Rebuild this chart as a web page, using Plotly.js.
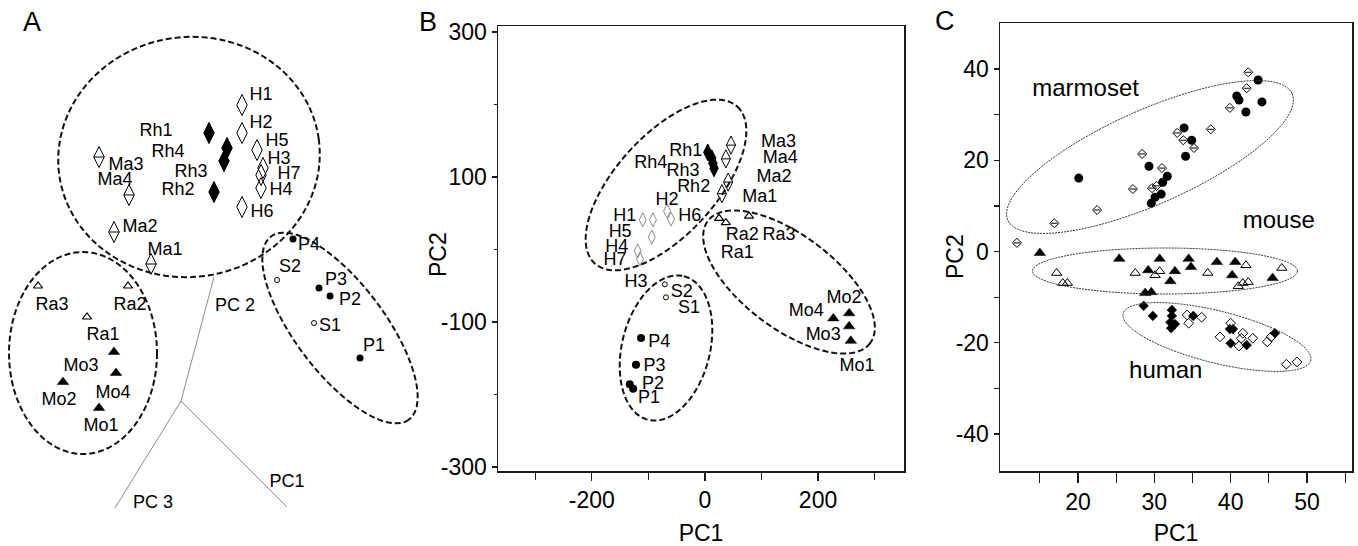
<!DOCTYPE html>
<html><head><meta charset="utf-8">
<script src="https://cdn.plot.ly/plotly-3.0.1.min.js"></script>
<style>html,body{margin:0;padding:0;background:#fff;}#chart{width:1358px;height:546px;}</style>
</head><body><div id="chart"></div>
<script>
// ---------------- Panel A (3-D PCA projection, schematic units) ----------------
const aH_x = [242,242,257,263,261,261,242];
const aH_y = [105,133,150,168,175,188,207];
const aRh_x = [209,227,224,214];
const aRh_y = [133,148,161,192];
const aMa_x = [99,129,114,151];
const aMa_y = [157,195,232,264];
const aRa_x = [38,128,87];
const aRa_y = [286,286,317];
const aMo_x = [114,116,63,99];
const aMo_y = [352,373,382,408];
const aP_x = [293,319,330,360];
const aP_y = [239,288,296,358];
const aS_x = [277,314];
const aS_y = [280,323];
const aLab_t = ['H1','H2','H5','H3','H7','H4','H6','Rh1','Rh4','Rh3','Rh2','Ma3','Ma4','Ma2','Ma1',
                'Ra3','Ra2','Ra1','Mo3','Mo4','Mo2','Mo1','P4','S2','P3','P2','S1','P1'];
const aLab_x = [261,261,277,279,289,281,262,156,168,191,178,126,115,140,165,
                52,130,103,81,113,59,101,309,290,336,350,330,374];
const aLab_y = [95,123,141,159,174,190,212,131,152,172,190,165,180,227,250,
                305,305,335,366,393,400,426,245,267,280,300,326,346];
const aAxis_x = [214,181,115,null,181,287];
const aAxis_y = [277,401,508,null,401,507];
const aAxisLab_t = ['PC 2','PC1','PC 3'];
const aAxisLab_x = [235,287,153];
const aAxisLab_y = [306,482,503];

// ---------------- Panel B (PC1 vs PC2) ----------------
const bRh_x = [5,12,14,16];
const bRh_y = [134,126,119,112];
const bMa_x = [46,37,41,30];
const bMa_y = [144,125,93,77];
const bH_x = [-110,-92,-67,-60,-94,-119,-115];
const bH_y = [41,41,53,42,17,-2,-13];
const bRa_x = [25,37,78];
const bRa_y = [43,37,46];
const bS_x = [-71,-69];
const bS_y = [-48,-66];
const bP_x = [-113,-122,-133,-127];
const bP_y = [-122,-159,-186,-192];
const bMo_x = [227,255,255,258];
const bMo_y = [-95,-88,-106,-126];
const bLab_t = ['Rh1','Rh4','Rh3','Rh2','Ma3','Ma4','Ma2','Ma1','H1','H2','H6','H5','H4','H7','H3',
                'Ra2','Ra3','Ra1','S2','S1','P4','P3','P2','P1','Mo2','Mo4','Mo3','Mo1'];
const bLab_x = [-34,-96,-39,-20,130,133,122,97,-142,-67,-27,-150,-156,-159,-122,
                66,131,57,-41,-28,-81,-89,-92,-99,246,179,209,269];
const bLab_y = [135,118,107,86,148,125,99,72,46,68,46,23,3,-15,-45,
                20,20,-5,-59,-81,-128,-161,-186,-205,-68,-86,-118,-161];
const bXtickVals = [-200,0,200];
const bXtickText = ['-200','0','200'];
const bXminor = [-300,-100,100,300];
const bYtickVals = [-300,-100,100,300];
const bYtickText = ['-300','-100','100','300'];
const bYminor = [-200,0,200];

// ---------------- Panel C (PC1 vs PC2, species) ----------------
const cMarmOpen_x = [42.3,42.1,39.9,37.4,33.0,33.8,35.2,28.4,31.0,30.3,29.7,27.2,22.5,16.9,12.0];
const cMarmOpen_y = [39.3,35.8,31.5,26.8,26.0,24.4,22.7,21.4,18.3,14.4,13.9,13.7,9.1,6.2,1.9];
const cMarmFill_x = [43.6,44.1,40.8,41.1,42.0,33.9,34.9,34.1,29.3,31.7,31.1,30.9,30.1,29.6,20.1];
const cMarmFill_y = [37.6,32.8,34.1,33.2,30.6,27.1,24.4,20.9,18.7,16.5,15.2,12.6,11.9,10.6,16.1];
const cMouseFill_x = [15.0,25.4,30.7,29.2,32.7,32.1,34.5,34.8,38.2,40.6,40.2,45.5,28.8,29.6];
const cMouseFill_y = [-0.3,-1.6,-1.6,-4.1,-4.3,-6.5,-1.6,-3.4,-2.3,-2.3,-5.2,-5.8,-9.1,-8.9];
const cMouseOpen_x = [17.2,18.0,18.6,27.5,30.1,30.7,37.0,42.0,41.0,41.6,42.3,46.7];
const cMouseOpen_y = [-4.7,-6.9,-6.9,-4.7,-5.2,-4.3,-4.7,-3.0,-7.6,-6.9,-6.7,-3.6];
const cHumFill_x = [28.6,29.8,32.3,32.3,32.1,32.7,32.2,35.1,39.9,40.3,40.0,42.1,45.8];
const cHumFill_y = [-11.9,-14.1,-12.8,-14.1,-15.5,-15.9,-16.8,-14.1,-17.0,-17.0,-20.1,-20.5,-17.9];
const cHumOpen_x = [34.3,34.5,36.2,40.0,38.6,41.6,41.4,41.1,42.9,44.8,45.3,47.3,48.7];
const cHumOpen_y = [-13.9,-15.7,-14.4,-15.7,-18.7,-17.9,-19.0,-20.7,-19.0,-19.8,-18.7,-24.7,-24.2];
const cGroup_t = ['marmoset','mouse','human'];
const cGroup_x = [21.0,46.3,31.5];
const cGroup_y = [35.4,6.5,-26.4];
const cXtickVals = [20,30,40,50];
const cXtickText = ['20','30','40','50'];
const cXminor = [15,25,35,45,55];
const cYtickVals = [-40,-20,0,20,40];
const cYtickText = ['-40','-20','0','20','40'];
const cYminor = [-30,-10,10,30];

// ---------------- helpers ----------------
const W = 1358, H = 546;
const FONT = 'Liberation Sans, Arial, Helvetica, sans-serif';
function ell(cx, cy, a, b, angDeg) {
  const t = angDeg * Math.PI / 180; let d = '';
  const n = 120;
  for (let i = 0; i <= n; i++) {
    const u = 2 * Math.PI * i / n;
    const ex = a * Math.cos(u), ey = b * Math.sin(u);
    const px = cx + ex * Math.cos(t) - ey * Math.sin(t);
    const py = cy + ex * Math.sin(t) + ey * Math.cos(t);
    d += (i ? 'L' : 'M') + (px / W).toFixed(5) + ',' + (1 - py / H).toFixed(5);
  }
  return d + 'Z';
}
function ellShape(p, dash, width, color) {
  return {type: 'path', xref: 'paper', yref: 'paper', path: ell(...p),
          line: {color: color, width: width, dash: dash}, layer: 'above'};
}
function pts(x, y, xa, ya, marker) {
  return {x: x, y: y, xaxis: xa, yaxis: ya, type: 'scatter', mode: 'markers',
          marker: marker, hoverinfo: 'skip', showlegend: false, cliponaxis: false};
}
function txt(t, x, y, xa, ya, size) {
  return {x: x, y: y, text: t, xaxis: xa, yaxis: ya, type: 'scatter', mode: 'text',
          textposition: 'middle center', textfont: {family: FONT, size: size, color: '#000'},
          hoverinfo: 'skip', showlegend: false, cliponaxis: false};
}
const K = '#000';
const openLine = (c, w) => ({color: c, width: w});

const traces = [
  // Panel A
  {x: aAxis_x, y: aAxis_y, xaxis: 'x', yaxis: 'y', type: 'scatter', mode: 'lines',
   line: {color: '#8c8c8c', width: 1}, hoverinfo: 'skip', showlegend: false},
  pts(aH_x, aH_y, 'x', 'y', {symbol: 'diamond-tall-open', size: 15, color: K, line: openLine(K, 1)}),
  pts(aRh_x, aRh_y, 'x', 'y', {symbol: 'diamond-tall', size: 15, color: K, line: openLine(K, 1)}),
  pts(aMa_x, aMa_y, 'x', 'y', {symbol: 'diamond-tall-open', size: 15, color: K, line: openLine(K, 1)}),
  pts(aMa_x, aMa_y, 'x', 'y', {symbol: 'line-ew', size: 7.5, color: K, line: openLine(K, 1)}),
  pts(aRa_x, aRa_y, 'x', 'y', {symbol: 'triangle-up-open', size: 8, color: K, line: openLine(K, 1.2)}),
  pts(aMo_x, aMo_y, 'x', 'y', {symbol: 'triangle-up', size: 10, color: K, line: openLine(K, 0.5)}),
  pts(aP_x, aP_y, 'x', 'y', {symbol: 'circle', size: 7, color: K, line: openLine(K, 0)}),
  pts(aS_x, aS_y, 'x', 'y', {symbol: 'circle-open', size: 5, color: K, line: openLine(K, 1)}),
  txt(aLab_t, aLab_x, aLab_y, 'x', 'y', 18),
  txt(aAxisLab_t, aAxisLab_x, aAxisLab_y, 'x', 'y', 18),
  // Panel B
  pts(bH_x, bH_y, 'x2', 'y2', {symbol: 'diamond-tall-open', size: 10, color: '#8a8a8a', line: openLine('#8a8a8a', 1)}),
  pts(bRh_x, bRh_y, 'x2', 'y2', {symbol: 'diamond-tall', size: 12, color: K, line: openLine(K, 1)}),
  pts(bMa_x, bMa_y, 'x2', 'y2', {symbol: 'diamond-tall-open', size: 13, color: K, line: openLine(K, 1)}),
  pts(bMa_x, bMa_y, 'x2', 'y2', {symbol: 'line-ew', size: 6.5, color: K, line: openLine(K, 1)}),
  pts(bRa_x, bRa_y, 'x2', 'y2', {symbol: 'triangle-up-open', size: 8, color: K, line: openLine(K, 1.2)}),
  pts(bMo_x, bMo_y, 'x2', 'y2', {symbol: 'triangle-up', size: 10, color: K, line: openLine(K, 0.5)}),
  pts(bP_x, bP_y, 'x2', 'y2', {symbol: 'circle', size: 8, color: K, line: openLine(K, 0)}),
  pts(bS_x, bS_y, 'x2', 'y2', {symbol: 'circle-open', size: 5, color: K, line: openLine(K, 1)}),
  txt(bLab_t, bLab_x, bLab_y, 'x2', 'y2', 18),
  // Panel C
  pts(cMarmOpen_x, cMarmOpen_y, 'x3', 'y3', {symbol: 'diamond-open', size: 7, color: K, line: openLine(K, 1)}),
  pts(cMarmOpen_x, cMarmOpen_y, 'x3', 'y3', {symbol: 'line-ew', size: 4.5, color: K, line: openLine(K, 1)}),
  pts(cMarmFill_x, cMarmFill_y, 'x3', 'y3', {symbol: 'circle', size: 9, color: K, line: openLine(K, 0)}),
  pts(cMouseOpen_x, cMouseOpen_y, 'x3', 'y3', {symbol: 'triangle-up-open', size: 9, color: K, line: openLine(K, 1)}),
  pts(cMouseFill_x, cMouseFill_y, 'x3', 'y3', {symbol: 'triangle-up', size: 10, color: K, line: openLine(K, 0.5)}),
  pts(cHumOpen_x, cHumOpen_y, 'x3', 'y3', {symbol: 'diamond-open', size: 7.5, color: K, line: openLine(K, 1)}),
  pts(cHumFill_x, cHumFill_y, 'x3', 'y3', {symbol: 'diamond', size: 7.5, color: K, line: openLine(K, 0.5)}),
  txt(cGroup_t, cGroup_x, cGroup_y, 'x3', 'y3', 24)
];

const axBase = {showgrid: false, zeroline: false, showline: true, linecolor: '#1a1a1a', linewidth: 1.5,
  mirror: true, ticks: 'outside', tickcolor: '#1a1a1a', tickwidth: 1.2, tickmode: 'array',
  tickfont: {family: FONT, size: 23, color: '#000'}, fixedrange: true};
const minorBase = {ticks: 'outside', tickmode: 'array', tickcolor: '#1a1a1a', tickwidth: 1.2, showgrid: false};

const shapes = [
  // Panel A
  ellShape([189,157,131,120,-8], '6px,3px', 2, '#111'),
  ellShape([83,353,74,101,0], '6px,3px', 2, '#111'),
  ellShape([340,328,114.6,44.7,53], '6px,3px', 2, '#111'),
  // Panel B
  ellShape([666,185,106,50,-47.7], '6px,3px', 2, '#111'),
  ellShape([789,282,101.6,46.6,37], '6px,3px', 2, '#111'),
  ellShape([666,348,74,44,-76], '6px,3px', 2, '#111'),
  // Panel C
  ellShape([1150,157,155.6,47,-24], '2px,1px', 1, '#333'),
  ellShape([1165,271,132.5,23,0], '2px,1px', 1, '#333'),
  ellShape([1217,337,96.7,26,14], '2px,1px', 1, '#333')
];

function ann(t, px, py, size, angle) {
  return {text: t, x: px / W, y: 1 - py / H, xref: 'paper', yref: 'paper', showarrow: false,
          xanchor: 'center', yanchor: 'middle', textangle: angle || 0,
          font: {family: FONT, size: size, color: '#000'}};
}

const layout = {
  width: W, height: H, margin: {l: 0, r: 0, t: 0, b: 0},
  paper_bgcolor: '#fff', plot_bgcolor: 'rgba(0,0,0,0)',
  font: {family: FONT, color: '#000'}, showlegend: false,
  xaxis: {domain: [0, 440 / W], range: [0, 440], visible: false, fixedrange: true},
  yaxis: {domain: [0, 1], range: [546, 0], visible: false, fixedrange: true},
  xaxis2: Object.assign({}, axBase, {domain: [498 / W, 904 / W], range: [-366, 352], anchor: 'y2',
    tickvals: bXtickVals, ticktext: bXtickText, ticklen: 8,
    minor: Object.assign({}, minorBase, {tickvals: bXminor, ticklen: 7}),
    title: {text: 'PC1', font: {family: FONT, size: 23}, standoff: 14}}),
  yaxis2: Object.assign({}, axBase, {domain: [1 - 471 / H, 1 - 26 / H], range: [-305.5, 308.3], anchor: 'x2',
    tickvals: bYtickVals, ticktext: bYtickText, ticklen: 5,
    minor: Object.assign({}, minorBase, {tickvals: bYminor, ticklen: 3})}),
  xaxis3: Object.assign({}, axBase, {domain: [1000 / W, 1352 / W], range: [9.78, 55.9], anchor: 'y3',
    tickvals: cXtickVals, ticktext: cXtickText, ticklen: 10,
    minor: Object.assign({}, minorBase, {tickvals: cXminor, ticklen: 10}),
    title: {text: 'PC1', font: {family: FONT, size: 23}, standoff: 12}}),
  yaxis3: Object.assign({}, axBase, {domain: [1 - 471 / H, 1 - 23 / H], range: [-48.1, 50.1], anchor: 'x3',
    tickvals: cYtickVals, ticktext: cYtickText, ticklen: 5,
    minor: Object.assign({}, minorBase, {tickvals: cYminor, ticklen: 5})}),
  shapes: shapes,
  annotations: [
    ann('A', 32, 22, 27), ann('B', 428, 22, 27), ann('C', 945, 21, 27),
    ann('PC2', 438, 255, 23, -90), ann('PC2', 955, 257, 23, -90)
  ]
};

Plotly.newPlot('chart', traces, layout, {displayModeBar: false, staticPlot: true});
</script></body></html>
